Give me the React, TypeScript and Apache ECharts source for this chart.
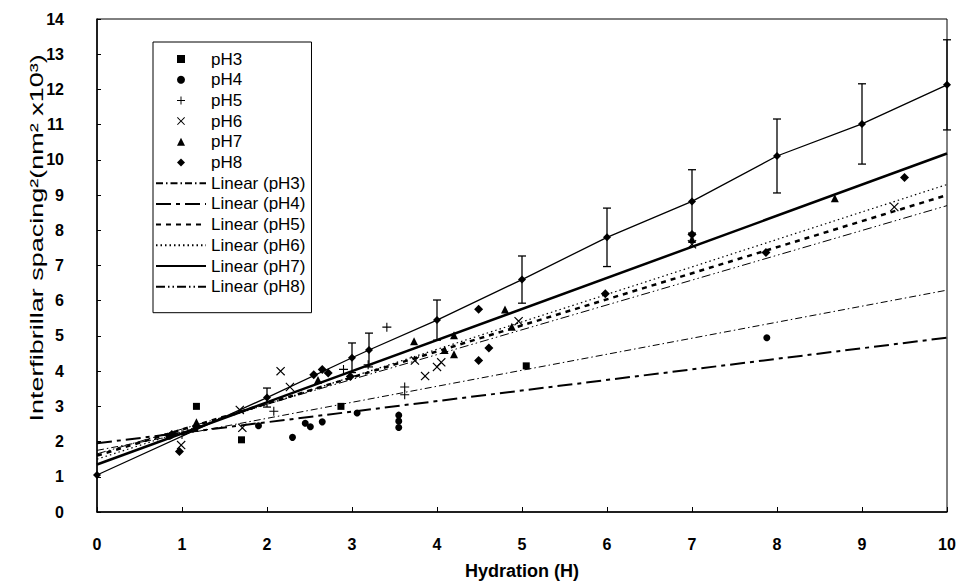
import React, { useEffect, useRef } from "react";
import * as echarts from "echarts";

// Axis ranges (tick labels 0..10 and 0..14, step 1)
const xAxisRange = [0, 10];
const yAxisRange = [0, 14];
const tickStep = 1;

// Scatter data per pH [hydration, spacing²]
const pH3: number[][] = [[1.17, 3.0], [1.7, 2.05], [2.87, 3.0], [5.05, 4.15]];
const pH4: number[][] = [
  [0.85, 2.15], [1.9, 2.45], [2.3, 2.12], [2.45, 2.52], [2.51, 2.42], [2.65, 2.56],
  [3.06, 2.81], [3.55, 2.75], [3.55, 2.58], [3.55, 2.4], [7.88, 4.95],
];
const pH5: number[][] = [
  [1.0, 2.2], [2.08, 2.86], [2.9, 4.05], [3.19, 4.18], [3.41, 5.25], [3.62, 3.55], [3.62, 3.33],
];
const pH6: number[][] = [
  [0.99, 1.9], [1.68, 2.9], [1.71, 2.39], [2.16, 4.0], [2.27, 3.55], [3.74, 4.3], [3.86, 3.86],
  [4.0, 4.12], [4.05, 4.25], [4.96, 5.42], [7.0, 7.6], [9.38, 8.66],
];
const pH7: number[][] = [
  [1.17, 2.55], [2.6, 3.75], [3.73, 4.85], [4.09, 4.6], [4.2, 5.02], [4.2, 4.48],
  [4.8, 5.75], [4.88, 5.26], [7.0, 7.75], [8.68, 8.91],
];
const pH8: number[][] = [
  [0.88, 2.2], [0.97, 1.72], [1.17, 2.42], [2.55, 3.9], [2.65, 4.05], [2.72, 3.95], [2.98, 3.85],
  [4.49, 5.76], [4.61, 4.66], [4.49, 4.3], [5.98, 6.2], [7.0, 7.88], [7.87, 7.37], [9.5, 9.5],
];

// Mean series with error bars (thin solid line)
const meanX = [0, 2, 3, 3.2, 4, 5, 6, 7, 8, 9, 10];
const meanY = [1.05, 3.25, 4.38, 4.6, 5.45, 6.6, 7.8, 8.82, 10.11, 11.02, 12.13];
const meanErr = [0, 0.27, 0.42, 0.48, 0.57, 0.67, 0.83, 0.9, 1.05, 1.14, 1.28];

// Linear trend lines (value at H=0 and H=10)
const fitNames = ["Linear (pH3)", "Linear (pH4)", "Linear (pH5)", "Linear (pH6)", "Linear (pH7)", "Linear (pH8)"];
const fitY0 = [1.75, 1.95, 1.6, 1.5, 1.35, 1.65];
const fitY10 = [6.3, 4.95, 9.0, 9.3, 10.18, 8.7];

const scatterNames = ["pH3", "pH4", "pH5", "pH6", "pH7", "pH8"];
const scatterData = [pH3, pH4, pH5, pH6, pH7, pH8];

const SQUARE = "path://M-1,-1H1V1H-1Z";
const PLUS = "path://M-0.12,-1H0.12V-0.12H1V0.12H0.12V1H-0.12V0.12H-1V-0.12H-0.12Z";
const CROSS = "path://M-1,-0.82L-0.82,-1L0,-0.18L0.82,-1L1,-0.82L0.18,0L1,0.82L0.82,1L0,0.18L-0.82,1L-1,0.82L-0.18,0Z";
const TRIANGLE = "path://M0,-1L1,1H-1Z";
const DIAMOND = "path://M0,-1L1,0L0,1L-1,0Z";
const scatterSymbols = [SQUARE, "circle", PLUS, CROSS, TRIANGLE, DIAMOND];
const scatterSizes = [7, 7, 9, 9, 8, 9];

const fitStyles: any[] = [
  { type: [7, 3, 1.5, 3], width: 1 },
  { type: [15, 5, 4, 5], width: 2 },
  { type: [5, 5], width: 2.5 },
  { type: [1.5, 3], width: 1.2 },
  { type: "solid", width: 2.5 },
  { type: [9, 3, 1.5, 3, 1.5, 3], width: 1 },
];

const FONT = "'Liberation Sans', Arial, Helvetica, sans-serif";

export default function App() {
  const ref = useRef<HTMLDivElement>(null);
  useEffect(() => {
    if (!ref.current) return;
    const chart = echarts.init(ref.current, undefined, { renderer: "svg" });

    const series: any[] = [];
    fitNames.forEach((name, i) => {
      series.push({
        name,
        type: "line",
        data: [[xAxisRange[0], fitY0[i]], [xAxisRange[1], fitY10[i]]],
        showSymbol: false,
        symbol: "none",
        lineStyle: { color: "#000", width: fitStyles[i].width, type: fitStyles[i].type },
        itemStyle: { color: "#000" },
        z: 3,
      });
    });
    scatterNames.forEach((name, i) => {
      series.push({
        name,
        type: "scatter",
        data: scatterData[i],
        symbol: scatterSymbols[i],
        symbolSize: scatterSizes[i],
        symbolKeepAspect: true,
        itemStyle: { color: "#000", opacity: 1 },
        z: 4,
      });
    });
    series.push({
      name: "mean",
      type: "line",
      data: meanX.map((x, i) => [x, meanY[i]]),
      symbol: DIAMOND,
      symbolSize: 8,
      showSymbol: true,
      lineStyle: { color: "#000", width: 1.3 },
      itemStyle: { color: "#000" },
      z: 4,
    });
    series.push({
      name: "errors",
      type: "custom",
      data: meanX.map((x, i) => [x, meanY[i], meanErr[i]]),
      encode: { x: 0, y: 1 },
      z: 4,
      renderItem: (params: any, api: any) => {
        const x = api.value(0);
        const y = api.value(1);
        const e = api.value(2);
        if (!e) return { type: "group", children: [] };
        const top = api.coord([x, y + e]);
        const bot = api.coord([x, y - e]);
        const hw = 4;
        const st = { stroke: "#000", lineWidth: 1.3 };
        return {
          type: "group",
          children: [
            { type: "line", shape: { x1: top[0], y1: top[1], x2: bot[0], y2: bot[1] }, style: st },
            { type: "line", shape: { x1: top[0] - hw, y1: top[1], x2: top[0] + hw, y2: top[1] }, style: st },
            { type: "line", shape: { x1: bot[0] - hw, y1: bot[1], x2: bot[0] + hw, y2: bot[1] }, style: st },
          ],
        };
      },
    });

    const legendData: any[] = [
      ...scatterNames.map((n) => ({ name: n })),
      ...fitNames.map((n) => ({ name: n, itemStyle: { opacity: 0, borderWidth: 0 } })),
    ];

    chart.setOption({
      animation: false,
      backgroundColor: "#fff",
      grid: {
        left: 97,
        right: 17,
        top: 19,
        bottom: 73,
        show: true,
        borderColor: "#000",
        borderWidth: 1,
        backgroundColor: "transparent",
      },
      legend: {
        orient: "vertical",
        left: 153,
        top: 42,
        data: legendData,
        itemWidth: 50,
        itemHeight: 8,
        itemGap: 2.7,
        symbolKeepAspect: true,
        padding: [8, 6, 17, 2],
        borderColor: "#000",
        borderWidth: 1,
        backgroundColor: "#fff",
        selectedMode: false,
        textStyle: { fontFamily: FONT, fontSize: 17, lineHeight: 18, color: "#000" },
      },
      xAxis: {
        type: "value",
        min: xAxisRange[0],
        max: xAxisRange[1],
        interval: tickStep,
        name: "Hydration (H)",
        nameLocation: "middle",
        nameGap: 50,
        nameTextStyle: { fontFamily: FONT, fontSize: 18, fontWeight: "bold", color: "#000" },
        axisLine: { lineStyle: { color: "#000", width: 1.5 } },
        axisTick: { inside: true, length: 5, lineStyle: { color: "#000" } },
        axisLabel: { margin: 24, fontFamily: FONT, fontSize: 16, fontWeight: "bold", color: "#000" },
        splitLine: { show: false },
      },
      yAxis: {
        type: "value",
        min: yAxisRange[0],
        max: yAxisRange[1],
        interval: tickStep,
        axisLine: { show: true, lineStyle: { color: "#000", width: 1.5 } },
        axisTick: { show: true, inside: true, length: 4, lineStyle: { color: "#000" } },
        axisLabel: { margin: 33, fontFamily: FONT, fontSize: 16, fontWeight: "bold", color: "#000" },
        splitLine: { show: false },
      },
      graphic: [
        {
          type: "text",
          x: 36,
          y: 238,
          rotation: Math.PI / 2,
          scaleX: 1.42,
          style: {
            text: "Interfibrillar spacing²(nm² x10³)",
            fontFamily: FONT,
            fontSize: 19,
            fill: "#000",
            align: "center",
            verticalAlign: "middle",
          },
        },
      ],
      series,
    });
    return () => chart.dispose();
  }, []);
  return (
    <div
      ref={ref}
      style={{ position: "fixed", left: 0, top: 0, width: 964, height: 585, background: "#fff" }}
    />
  );
}
